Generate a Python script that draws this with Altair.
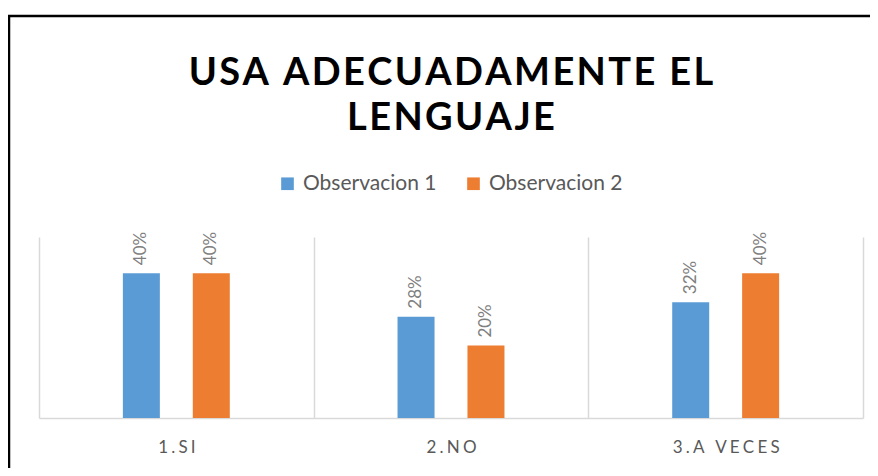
import altair as alt
import pandas as pd

categories = ["1.SI", "2.NO", "3.A VECES"]
series = ["Observacion 1", "Observacion 2"]
obs1 = [0.40, 0.28, 0.32]
obs2 = [0.40, 0.20, 0.40]
colors = ["#5B9BD5", "#ED7D31"]
title_lines = ["USA ADECUADAMENTE EL", "LENGUAJE"]

def spaced(s, ch="\u200a"):
    return ch.join(s)

rows = []
for i, c in enumerate(categories):
    rows.append({"cat": c, "serie": series[0], "val": obs1[i]})
    rows.append({"cat": c, "serie": series[1], "val": obs2[i]})
df = pd.DataFrame(rows)

x = alt.X("cat:N", sort=categories,
          scale=alt.Scale(paddingInner=0, paddingOuter=0),
          axis=alt.Axis(title=None, tickBand="extent", grid=True, gridColor="#d9d9d9",
                        gridWidth=1.5, ticks=False, domainColor="#d9d9d9", domainWidth=1.5,
                        labelAngle=0, labelFont="Lato", labelFontSize=17, labelColor="#595959",
                        labelPadding=21,
                        labelExpr="join(split(datum.label, ''), '\u2009\u200a')"))
xo = alt.XOffset("serie:N", sort=series, scale=alt.Scale(paddingInner=0, paddingOuter=0.964))
y = alt.Y("val:Q", scale=alt.Scale(domain=[0, 0.5]), axis=None)

bars = alt.Chart(df).mark_bar(width=37).encode(
    x=x, xOffset=xo, y=y,
    color=alt.Color("serie:N", sort=series,
                    scale=alt.Scale(domain=series, range=colors),
                    legend=alt.Legend(title=None, orient="none", direction="horizontal",
                                      legendX=238, legendY=-64, symbolType="square",
                                      symbolSize=160, symbolStrokeWidth=0,
                                      labelFont="Lato", labelFontSize=21,
                                      labelColor="#595959", columnPadding=26,
                                      labelOffset=5)),
)

labels = alt.Chart(df).mark_text(angle=270, align="left", baseline="middle", dx=8,
                                  font="Lato", fontSize=17, color="#7f7f7f").encode(
    x=x, xOffset=xo, y=y, text=alt.Text("val:Q", format=".0%"),
)

one = pd.DataFrame({"a": [0]})
top_border = alt.Chart(one).mark_rule(color="black", strokeWidth=2.5).encode(
    x=alt.value(-31), x2=alt.value(900), y=alt.value(-221))
left_border = alt.Chart(one).mark_rule(color="black", strokeWidth=2.5).encode(
    x=alt.value(-30), y=alt.value(-222), y2=alt.value(260))
bottom_line = alt.Chart(one).mark_rule(color="#e8e8e8", strokeWidth=1.5).encode(
    x=alt.value(-28), x2=alt.value(900), y=alt.value(237))

chart = alt.layer(bars, labels, top_border, left_border, bottom_line).properties(
    width=824, height=181,
    padding={"left": 31, "top": 229, "right": 7, "bottom": 50},
    autosize=alt.AutoSizeParams(type="none"),
    title=alt.TitleParams(text=[spaced(t) for t in title_lines], font="Lato", fontSize=38,
                          fontWeight="bold", color="black", lineHeight=45,
                          anchor="middle", offset=-124),
).configure_view(stroke=None)

chart.save("out.html", embed_options={"renderer": "svg", "actions": False})
